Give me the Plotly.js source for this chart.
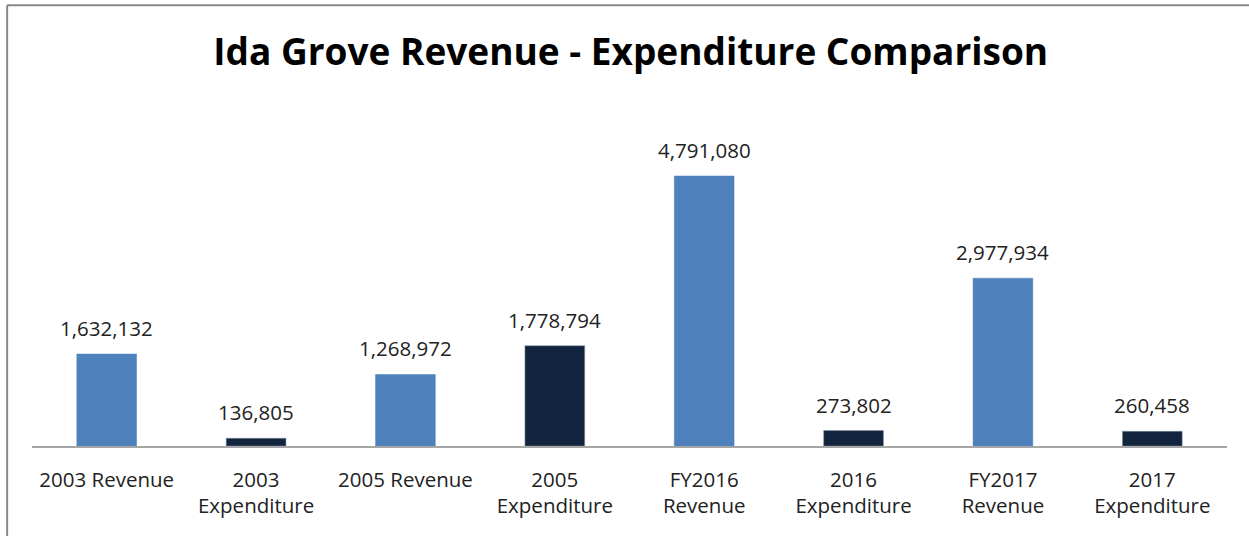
<!DOCTYPE html>
<html>
<head>
<meta charset="utf-8">
<script src="https://cdn.plot.ly/plotly-3.0.1.min.js"></script>
<style>
html,body{margin:0;padding:0;background:#fff;}
#chart{width:1249px;height:536px;}
</style>
</head>
<body>
<div id="chart"></div>
<script>
const categories = ["2003 Revenue", "2003<br>Expenditure", "2005 Revenue", "2005<br>Expenditure",
  "FY2016<br>Revenue", "2016<br>Expenditure", "FY2017<br>Revenue", "2017<br>Expenditure"];
const values = [1632132, 136805, 1268972, 1778794, 4791080, 273802, 2977934, 260458];
const kinds = ["rev", "exp", "rev", "exp", "rev", "exp", "rev", "exp"];

const colorMap = {rev: "#4F81BD", exp: "#13243F"};
const fmt = v => v.toLocaleString("en-US");

const trace = {
  type: "bar",
  x: categories,
  y: values,
  width: 0.4,
  marker: {color: kinds.map(k => colorMap[k]), line: {color: kinds.map(k => k === "exp" ? "#8090a0" : colorMap[k]), width: 0.5}},
  hoverinfo: "x+y"
};

const annotations = categories.map((c, i) => ({
  x: c, y: values[i], xref: "x", yref: "y",
  text: fmt(values[i]), showarrow: false,
  yanchor: "bottom", yshift: 10,
  font: {family: "Open Sans, sans-serif", size: 20.5, color: "#222"}
}));

const layout = {
  width: 1249, height: 536,
  margin: {l: 32, r: 22, t: 100, b: 90},
  paper_bgcolor: "#fff", plot_bgcolor: "#fff",
  showlegend: false,
  title: {text: "<b>Ida Grove Revenue - Expenditure Comparison</b>", x: 0.505, xanchor: "center", y: 0.903, yanchor: "middle",
    font: {family: "Open Sans, sans-serif", size: 37, color: "#000"}},
  xaxis: {showgrid: false, showline: true, linecolor: "#a6a6a6", linewidth: 2, ticks: "", ticklen: 0,
    ticklabelstandoff: 14,
    tickfont: {family: "Open Sans, sans-serif", size: 20.5, color: "#222"}, fixedrange: true},
  yaxis: {range: [0, 6140000], visible: false, showgrid: false, zeroline: false, fixedrange: true},
  annotations: annotations,
  shapes: [
    {type: "line", xref: "paper", yref: "paper", x0: -0.0208, x1: 1.05, y0: 1.274, y1: 1.274, line: {color: "#888", width: 2}},
    {type: "line", xref: "paper", yref: "paper", x0: -0.0208, x1: -0.0208, y0: 1.274, y1: -0.3, line: {color: "#888", width: 2}}
  ]
};

Plotly.newPlot("chart", [trace], layout, {displayModeBar: false, staticPlot: true});
</script>
</body>
</html>
